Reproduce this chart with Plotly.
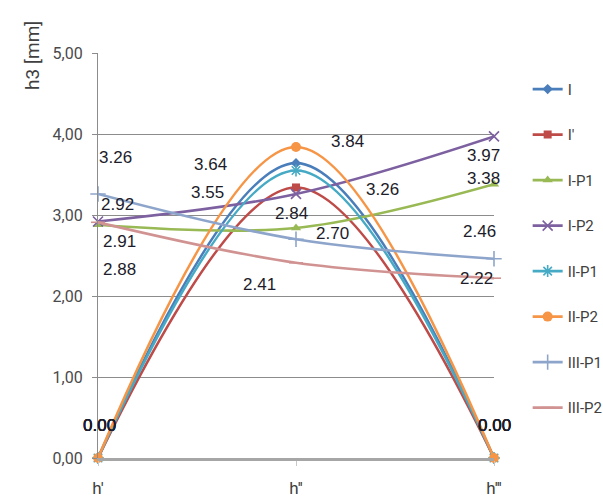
import plotly.graph_objects as go

# Measurement positions along the profile
categories = ["h'", "h''", "h'''"]

# h3 values [mm] per variant
series_names = ["I", "I'", "I-P1", "I-P2", "II-P1", "II-P2", "III-P1", "III-P2"]
vals_I = [0.00, 3.64, 0.00]
vals_I_prime = [0.00, 3.34, 0.00]
vals_I_P1 = [2.88, 2.84, 3.38]
vals_I_P2 = [2.92, 3.26, 3.97]
vals_II_P1 = [0.00, 3.55, 0.00]
vals_II_P2 = [0.00, 3.84, 0.00]
vals_III_P1 = [3.26, 2.70, 2.46]
vals_III_P2 = [2.91, 2.41, 2.22]

# Y axis ticks (decimal comma)
y_tick_values = [0, 1, 2, 3, 4, 5]
y_tick_labels = ["0,00", "1,00", "2,00", "3,00", "4,00", "5,00"]

series_values = [vals_I, vals_I_prime, vals_I_P1, vals_I_P2,
                 vals_II_P1, vals_II_P2, vals_III_P1, vals_III_P2]

# Styling per series
colors = ["#4A7EBB", "#BE4B48", "#98B954", "#7D60A0",
          "#46AAC5", "#F69546", "#8EA5CB", "#D19392"]
symbols = ["diamond", "square", "triangle-up", "x-thin-open",
           "asterisk-open", "circle", "cross-thin-open", "line-ew-open"]
marker_sizes = [8, 8, 9, 10, 10, 10, 11, 10]

# Pixel offsets of each data label from its point (None = no label)
label_offsets = [
    [(1, 33), (-86, -1), (0, 33)],
    [(1, 33), None, (0, 33)],
    [(21, -45), (-5, 14), (-11, 6)],
    [(19, 17), (86, 4), (-11, -19)],
    [(1, 33), (-89, -22), (0, 33)],
    [(1, 33), (51, 5), (0, 33)],
    [(17, 36), (36, 6), (-15, 27)],
    [(21, -19), (-37, -22), (-18, 0)],
]

x_pos = list(range(len(categories)))

fig = go.Figure()
for i, (name, vals) in enumerate(zip(series_names, series_values)):
    thin = symbols[i].endswith("-open")
    fig.add_trace(go.Scatter(
        x=x_pos, y=vals, name=name, mode="lines+markers",
        legendgroup=name,
        line=dict(color=colors[i], width=2.6, shape="spline", smoothing=1),
        marker=dict(symbol=symbols[i], size=marker_sizes[i], color=colors[i],
                    line=dict(color=colors[i], width=1.6 if thin else 0)),
        cliponaxis=False,
    ))

annotations = []
for vals, offs in zip(series_values, label_offsets):
    for xi, (v, off) in enumerate(zip(vals, offs)):
        if off is None:
            continue
        annotations.append(dict(
            x=xi, y=v, xref="x", yref="y", text=f"{v:.2f}",
            showarrow=False, xshift=off[0], yshift=off[1],
            font=dict(family="Liberation Sans, Arial, sans-serif", size=17,
                      color="#1c1c2a"),
        ))

annotations.append(dict(
    x=-0.167, y=0.995, xref="paper", yref="paper", text="h3 [mm]",
    textangle=-90, showarrow=False, xanchor="center", yanchor="middle",
    font=dict(family="Roboto, sans-serif", size=19, color="#404040"),
))

fig.update_layout(
    width=603, height=497,
    margin=dict(l=98, r=109, t=53, b=39, autoexpand=False),
    paper_bgcolor="white", plot_bgcolor="white",
    annotations=annotations,
    showlegend=True,
    legend=dict(
        x=1.085, y=0.951, xanchor="left", yanchor="top",
        traceorder="grouped", tracegroupgap=23,
        font=dict(family="Roboto, sans-serif", size=15, color="#404040"),
        bgcolor="rgba(0,0,0,0)", itemwidth=30,
    ),
    xaxis=dict(
        range=[0, 2], tickvals=x_pos, ticktext=categories,
        automargin=False,
        showgrid=False, zeroline=False,
        showline=True, linecolor="#a6a6a6", linewidth=2.5,
        ticks="outside", ticklen=5, tickcolor="#c8c8c8",
        ticklabelstandoff=8,
        tickfont=dict(family="Roboto, sans-serif", size=17, color="#404040"),
    ),
    yaxis=dict(
        range=[0, 5], tickvals=y_tick_values, ticktext=y_tick_labels,
        automargin=False,
        showgrid=True, gridcolor="#8c8c8c", gridwidth=1.3,
        zeroline=False,
        showline=True, linecolor="#8c8c8c", linewidth=1.3,
        ticks="outside", ticklen=5, tickcolor="#8c8c8c",
        ticklabelstandoff=6,
        tickfont=dict(family="Roboto, sans-serif", size=16, color="#4a4a4a"),
    ),
)

fig.write_html("out.html")
